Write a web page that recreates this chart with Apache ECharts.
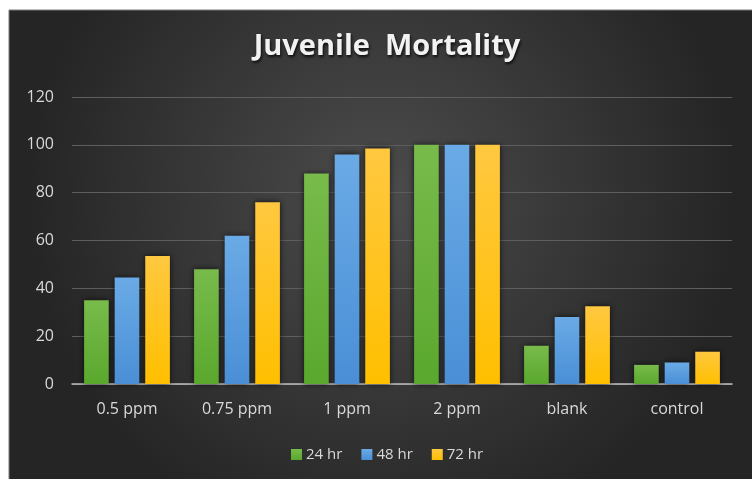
<!DOCTYPE html>
<html>
<head>
<meta charset="utf-8">
<script src="https://cdn.jsdelivr.net/npm/echarts@6/dist/echarts.min.js"></script>
<style>
  html, body { margin: 0; padding: 0; background: #fff; }
  #chart { width: 752px; height: 479px; }
</style>
</head>
<body>
<div id="chart"></div>
<script>
const categories = ['0.5 ppm', '0.75 ppm', '1 ppm', '2 ppm', 'blank', 'control']
const hr24 = [35, 48, 88, 100, 16, 8]
const hr48 = [44.5, 62, 96, 100, 28, 9]
const hr72 = [53.5, 76, 98.5, 100, 32.5, 13.5]
const yTicks = [0, 20, 40, 60, 80, 100, 120]

const font = '"Open Sans", sans-serif'

function barColor(top, bottom) {
  return new echarts.graphic.LinearGradient(0, 0, 0, 1, [
    { offset: 0, color: top },
    { offset: 1, color: bottom }
  ])
}

function makeSeries(name, data, top, bottom) {
  return {
    name: name,
    type: 'bar',
    data: data,
    barGap: '24%',
    barCategoryGap: '22%',
    itemStyle: {
      color: barColor(top, bottom),
      shadowColor: 'rgba(0,0,0,0.7)',
      shadowBlur: 6
    }
  }
}

const chart = echarts.init(document.getElementById('chart'))
chart.setOption({
  backgroundColor: '#ffffff',
  animation: false,
  graphic: [{
    type: 'rect',
    z: -10,
    shape: { x: 9, y: 10, width: 745, height: 471 },
    style: {
      fill: new echarts.graphic.RadialGradient(0.5, 0.4, 0.75, [
        { offset: 0, color: '#4c4c4c' },
        { offset: 1, color: '#252525' }
      ]),
      stroke: '#7a7a7a',
      lineWidth: 1
    }
  }],
  title: {
    text: 'Juvenile  Mortality',
    left: 382,
    top: 27,
    textAlign: 'center',
    textStyle: {
      color: '#f2f2f2',
      fontFamily: font,
      fontWeight: 'bold',
      fontSize: 29,
      textShadowColor: 'rgba(0,0,0,0.8)',
      textShadowBlur: 3,
      textShadowOffsetX: 1,
      textShadowOffsetY: 2
    }
  },
  legend: {
    left: 286,
    top: 442,
    itemWidth: 11,
    itemHeight: 11,
    itemGap: 19,
    icon: 'rect',
    textStyle: { color: '#d9d9d9', fontFamily: font, fontSize: 15, padding: [0, 0, 0, -1] },
    data: ['24 hr', '48 hr', '72 hr']
  },
  grid: { left: 72, right: 20, top: 97, bottom: 95 },
  xAxis: {
    type: 'category',
    data: categories,
    axisTick: { show: false },
    axisLine: { lineStyle: { color: '#bfbfbf', width: 1.5 } },
    axisLabel: { color: '#d9d9d9', fontFamily: font, fontSize: 16, margin: 17 }
  },
  yAxis: {
    type: 'value',
    min: yTicks[0],
    max: yTicks[yTicks.length - 1],
    interval: 20,
    axisLine: { show: false },
    axisTick: { show: false },
    axisLabel: { color: '#d9d9d9', fontFamily: font, fontSize: 16, margin: 18 },
    splitLine: { lineStyle: { color: '#5e5e5e', width: 1 } }
  },
  series: [
    makeSeries('24 hr', hr24, '#78bb4b', '#5aa82e'),
    makeSeries('48 hr', hr48, '#6aaae6', '#4a8fd6'),
    makeSeries('72 hr', hr72, '#ffc840', '#ffbf00')
  ],
  color: ['#66b03a', '#5b9bd5', '#ffc000']
})
</script>
</body>
</html>
